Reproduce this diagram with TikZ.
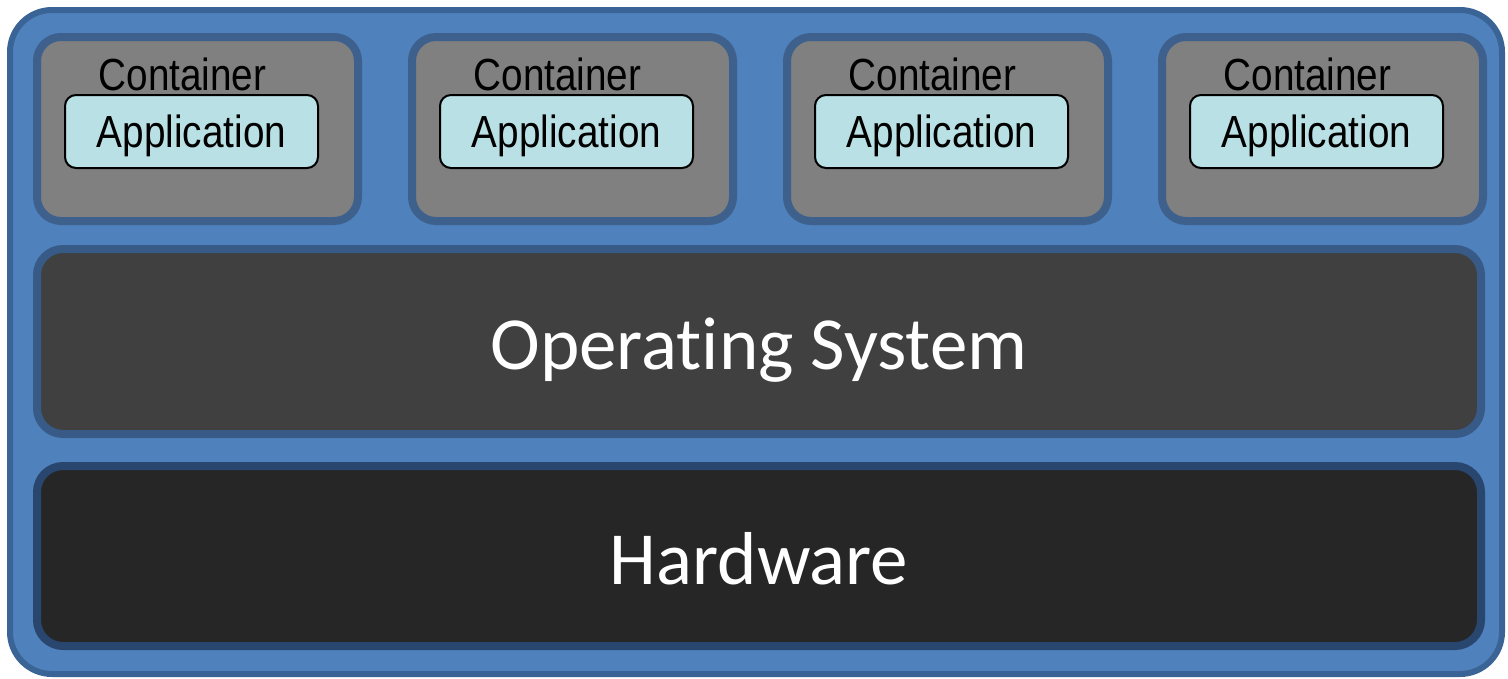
\documentclass[tikz,border=0pt]{standalone}
\usepackage{fontspec}
\newfontfamily\narrowfont[FakeStretch=0.86]{Liberation Sans}
\newfontfamily\layerfont[Ligatures=NoCommon]{Carlito}

\definecolor{frameblue}{RGB}{79,129,189}
\definecolor{frameline}{RGB}{58,100,150}
\definecolor{boxline}{RGB}{62,96,140}
\definecolor{boxgray}{RGB}{128,128,128}
\definecolor{appcyan}{RGB}{185,224,228}
\definecolor{osgray}{RGB}{64,64,64}
\definecolor{osline}{RGB}{55,90,135}
\definecolor{hwblack}{RGB}{38,38,38}
\definecolor{hwline}{RGB}{40,70,110}

\begin{document}
\begin{tikzpicture}[x=1pt,y=-1pt,
    ctrbox/.style={draw=boxline,fill=boxgray,line width=8pt,rounded corners=24pt,
      minimum width=321pt,minimum height=184pt},
    appbox/.style={draw=black,fill=appcyan,line width=2pt,rounded corners=11pt,
      minimum width=253pt,minimum height=73pt,inner sep=0pt,
      font=\narrowfont\fontsize{45pt}{50pt}\selectfont,text height=32pt,text depth=0pt},
    ctrlabel/.style={inner sep=0pt,font=\narrowfont\fontsize{45pt}{50pt}\selectfont},
    layer/.style={draw=osline,line width=8pt,rounded corners=26pt,minimum width=1444pt,
      text=white,font=\layerfont\fontsize{75pt}{80pt}\selectfont,text height=56pt,text depth=0pt}]
  \useasboundingbox (0,0) rectangle (1508,678);
  \draw[draw=frameline,fill=frameblue,line width=6pt,rounded corners=42pt] (10,10) rectangle (1502,674);
  \foreach \i in {0,...,3} {
    \node[ctrbox] (ctr\i) at (197.5+375*\i,129) {};
    \node[appbox] (app\i) at (191.5+375*\i,131.5) {Application};
    \node[ctrlabel,anchor=base] (lbl\i) at (182.5+375*\i,90) {Container};
  }
  \node[layer,fill=osgray,minimum height=185pt] (os) at (759,341.5) {Operating System};
  \node[layer,fill=hwblack,draw=hwline,minimum height=180pt] (hw) at (759,556) {Hardware};
\end{tikzpicture}
\end{document}
